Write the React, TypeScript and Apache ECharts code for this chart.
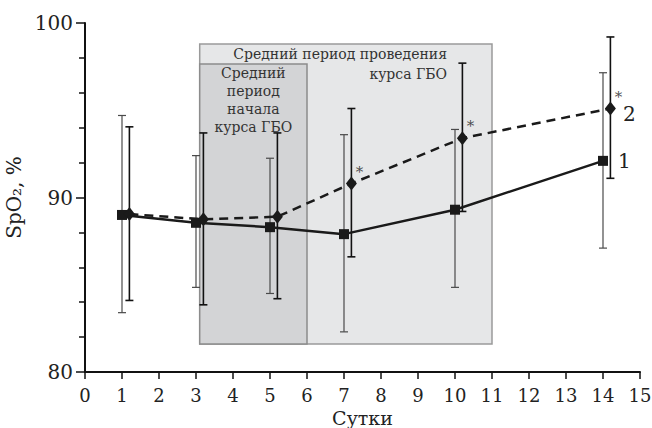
import React, { useEffect, useRef } from "react";
import * as echarts from "echarts";

// Series 1 (solid line, squares)
const days1 = [1, 3, 5, 7, 10, 14];
const mean1 = [89.0, 88.55, 88.3, 87.9, 89.3, 92.1];
const low1 = [83.4, 84.85, 84.5, 82.3, 84.85, 87.1];
const high1 = [94.7, 92.4, 92.25, 93.6, 93.9, 97.15];

// Series 2 (dashed line, diamonds)
const days2 = [1.2, 3.2, 5.2, 7.2, 10.2, 14.2];
const mean2 = [89.05, 88.75, 88.9, 90.8, 93.4, 95.1];
const low2 = [84.1, 83.85, 84.2, 86.6, 89.2, 91.1];
const high2 = [94.05, 93.7, 93.7, 95.1, 97.7, 99.2];
const significant2 = [false, false, false, true, true, true];

// Shaded periods: [xStart, xEnd, yBottom, yTop]
const periodNames = ["Средний период проведения\nкурса ГБО", "Средний\nпериод\nначала\nкурса ГБО"];
const periods = [
  [3.1, 11, 81.6, 98.8],
  [3.1, 6, 81.6, 97.65],
];

const xLabelName = "Сутки";
const yLabelName = "SpO₂, %";
const seriesNames = ["1", "2"];

const FONT = "DejaVu Serif";

export default function App() {
  const ref = useRef<HTMLDivElement>(null);

  useEffect(() => {
    if (!ref.current) return;
    const chart = echarts.init(ref.current, undefined, { renderer: "svg" });

    const boxStyles = [
      { fill: "#e6e7e8", stroke: "#9a9a9a" },
      { fill: "#d3d4d6", stroke: "#8c8c8c" },
    ];

    const errBar = (color: string, width: number) => (params: any, api: any) => {
      const x = api.value(0);
      const lo = api.coord([x, api.value(1)]);
      const hi = api.coord([x, api.value(2)]);
      const cap = 4;
      const style = { stroke: color, lineWidth: width };
      return {
        type: "group",
        children: [
          { type: "line", shape: { x1: lo[0], y1: lo[1], x2: hi[0], y2: hi[1] }, style },
          { type: "line", shape: { x1: lo[0] - cap, y1: lo[1], x2: lo[0] + cap, y2: lo[1] }, style },
          { type: "line", shape: { x1: hi[0] - cap, y1: hi[1], x2: hi[0] + cap, y2: hi[1] }, style },
        ],
      };
    };

    const option: any = {
      animation: false,
      grid: { left: 85, right: 12, top: 23, bottom: 56, containLabel: false, outerBoundsMode: "none" },
      xAxis: {
        type: "value",
        min: 0,
        max: 15,
        interval: 1,
        name: xLabelName,
        nameLocation: "middle",
        nameGap: 33,
        nameTextStyle: { fontFamily: FONT, fontSize: 19, color: "#222" },
        axisLine: { lineStyle: { color: "#111", width: 2 } },
        axisTick: { length: 7, lineStyle: { color: "#111", width: 1.5 } },
        axisLabel: { fontFamily: FONT, fontSize: 18, color: "#222", margin: 14 },
        splitLine: { show: false },
      },
      yAxis: {
        type: "value",
        min: 80,
        max: 100,
        interval: 10,
        name: yLabelName,
        nameLocation: "middle",
        nameGap: 44,
        nameTextStyle: { fontFamily: FONT, fontSize: 20, color: "#222" },
        axisLine: { show: true, lineStyle: { color: "#111", width: 2 } },
        axisTick: { show: true, length: 9, lineStyle: { color: "#111", width: 1.5 } },
        minorTick: { show: true, splitNumber: 5, length: 6, lineStyle: { color: "#111", width: 1.5 } },
        axisLabel: { fontFamily: FONT, fontSize: 20, color: "#222", margin: 12 },
        splitLine: { show: false },
      },
      series: [
        {
          type: "custom",
          name: "periods",
          z: 0,
          silent: true,
          data: periods.map((p, i) => [p[0], p[1], p[2], p[3], i]),
          encode: { x: [0, 1], y: [2, 3] },
          renderItem: (params: any, api: any) => {
            const idx = api.value(4);
            const p0 = api.coord([api.value(0), api.value(3)]);
            const p1 = api.coord([api.value(1), api.value(2)]);
            const w = p1[0] - p0[0];
            const h = p1[1] - p0[1];
            const st = boxStyles[idx];
            const children: any[] = [
              {
                type: "rect",
                shape: { x: p0[0], y: p0[1], width: w, height: h },
                style: { fill: st.fill, stroke: st.stroke, lineWidth: 1.5 },
              },
            ];
            if (idx === 0) {
              children.push({
                type: "text",
                x: p1[0] - 45,
                y: p0[1] + 0,
                style: {
                  text: periodNames[idx],
                  fontFamily: FONT,
                  fontSize: 14,
                  lineHeight: 20,
                  fill: "#333",
                  align: "right",
                  verticalAlign: "top",
                },
              });
            } else {
              children.push({
                type: "text",
                x: p0[0] + w / 2,
                y: p0[1],
                style: {
                  text: periodNames[idx],
                  fontFamily: FONT,
                  fontSize: 14,
                  lineHeight: 18,
                  fill: "#333",
                  align: "center",
                  verticalAlign: "top",
                },
              });
            }
            return { type: "group", children };
          },
        },
        {
          type: "custom",
          name: "err1",
          z: 2,
          silent: true,
          data: days1.map((d, i) => [d, low1[i], high1[i]]),
          encode: { x: 0, y: [1, 2] },
          renderItem: errBar("#4a4a4a", 1.2),
        },
        {
          type: "custom",
          name: "err2",
          z: 2,
          silent: true,
          data: days2.map((d, i) => [d, low2[i], high2[i]]),
          encode: { x: 0, y: [1, 2] },
          renderItem: errBar("#111", 1.6),
        },
        {
          type: "line",
          name: seriesNames[0],
          z: 4,
          data: days1.map((d, i) => ({
            value: [d, mean1[i]],
            label:
              i === days1.length - 1
                ? {
                    show: true,
                    formatter: seriesNames[0],
                    position: "right",
                    distance: 10,
                    fontFamily: FONT,
                    fontSize: 20,
                    color: "#222",
                  }
                : { show: false },
          })),
          symbol: "rect",
          symbolSize: 10,
          showSymbol: true,
          itemStyle: { color: "#1a1a1a" },
          lineStyle: { color: "#1a1a1a", width: 2.5 },
        },
        {
          type: "line",
          name: seriesNames[1],
          z: 5,
          data: days2.map((d, i) => ({
            value: [d, mean2[i]],
            label:
              i === days2.length - 1
                ? {
                    show: true,
                    formatter: seriesNames[1],
                    position: "right",
                    distance: 7,
                    offset: [0, 5],
                    fontFamily: FONT,
                    fontSize: 20,
                    color: "#222",
                  }
                : { show: false },
          })),
          symbol: "diamond",
          symbolSize: [11, 14],
          itemStyle: { color: "#1a1a1a" },
          lineStyle: { color: "#1a1a1a", width: 2.5, type: [9, 6] },
        },
        {
          type: "scatter",
          name: "sig",
          z: 6,
          silent: true,
          symbolSize: 0,
          data: days2
            .map((d, i) => [d, mean2[i]])
            .filter((_, i) => significant2[i]),
          label: {
            show: true,
            formatter: "*",
            position: "inside",
            offset: [8, -12],
            fontFamily: FONT,
            fontSize: 15,
            color: "#222",
          },
        },
      ],
    };

    chart.setOption(option);
    return () => chart.dispose();
  }, []);

  return (
    <div
      ref={ref}
      style={{ position: "fixed", left: 0, top: 0, width: 652, height: 428, background: "#fff" }}
    />
  );
}
